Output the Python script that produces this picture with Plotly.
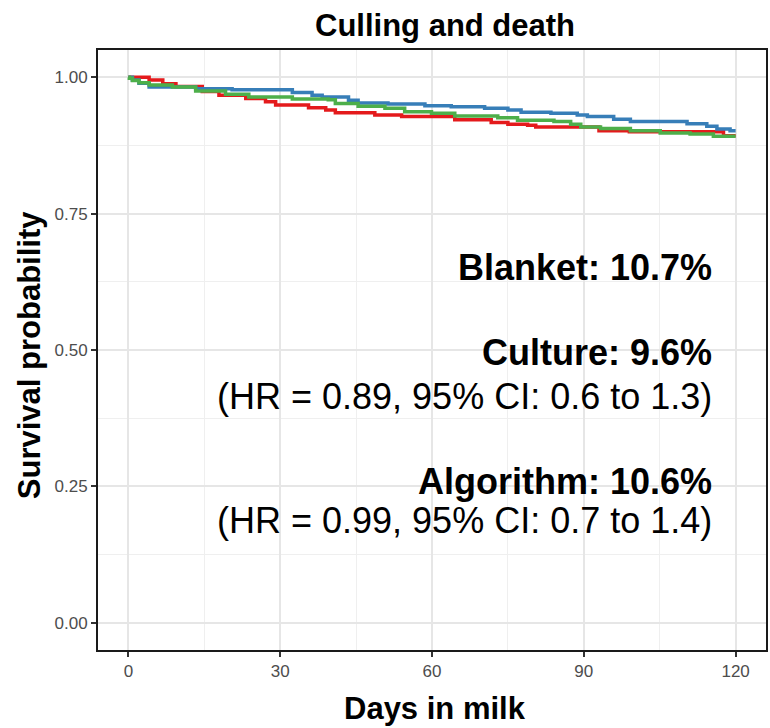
import plotly.graph_objects as go

# ---- data ----
blanket_days = [0, 4.1, 6.8, 9.4, 14.6, 17.9, 23.2, 27.1, 29.1, 35.6, 39.0, 40.9, 48.7, 54.0,
                64.5, 71.7, 75.0, 78.9, 80.5, 93.0, 99.0, 117.6, 120]
blanket_surv = [1.0, 0.995, 0.988, 0.983, 0.974, 0.967, 0.961, 0.955, 0.949, 0.944, 0.940, 0.935,
                0.931, 0.928, 0.922, 0.917, 0.914, 0.912, 0.909, 0.902, 0.900, 0.893, 0.893]

culture_days = [0, 0.8, 2.1, 4.1, 13.3, 20.5, 32.4, 36.3, 38.3, 43.5, 45.4, 51.3, 58.6, 63.8,
                70.4, 75.0, 77.6, 83.5, 88.7, 90.7, 95.9, 99.2, 110.4, 114.3, 116.3, 118.9, 120]
culture_surv = [1.0, 0.995, 0.989, 0.982, 0.979, 0.977, 0.972, 0.967, 0.964, 0.958, 0.953, 0.951,
                0.948, 0.946, 0.943, 0.940, 0.936, 0.934, 0.931, 0.928, 0.923, 0.919, 0.915,
                0.910, 0.905, 0.902, 0.902]

algorithm_days = [0, 0.2, 0.8, 2.1, 4.1, 8.7, 13.3, 19.2, 23.8, 32.4, 39.5, 40.9, 45.4, 50.7,
                  54.6, 59.9, 64.5, 73.0, 76.9, 84.1, 87.4, 89.4, 93.3, 99.2, 105.1, 111.0,
                  115.6, 120]
algorithm_surv = [1.0, 0.998, 0.994, 0.990, 0.986, 0.982, 0.975, 0.969, 0.964, 0.960, 0.959,
                  0.952, 0.947, 0.943, 0.937, 0.934, 0.929, 0.926, 0.921, 0.919, 0.914, 0.909,
                  0.906, 0.902, 0.898, 0.896, 0.892, 0.892]

x_ticks = [0, 30, 60, 90, 120]
y_ticks = [0.0, 0.25, 0.5, 0.75, 1.0]
y_ticklabels = ["0.00", "0.25", "0.50", "0.75", "1.00"]

title_text = "Culling and death"
x_title = "Days in milk"
y_title = "Survival probability"
label_lines = [
    ("<b>Blanket: 10.7%</b>", 0.6375),
    ("<b>Culture: 9.6%</b>", 0.4958),
    ("(HR = 0.89, 95% CI: 0.6 to 1.3)", 0.4225),
    ("<b>Algorithm: 10.6%</b>", 0.2808),
    ("(HR = 0.99, 95% CI: 0.7 to 1.4)", 0.2158),
]

FONT = "Liberation Sans, Arial, sans-serif"

fig = go.Figure()
for days, surv, color, name in [
    (blanket_days, blanket_surv, "#E41A1C", "Blanket"),
    (culture_days, culture_surv, "#377EB8", "Culture"),
    (algorithm_days, algorithm_surv, "#4DAF4A", "Algorithm"),
]:
    fig.add_trace(go.Scatter(x=days, y=surv, mode="lines", name=name,
                             line=dict(color=color, width=3.5, shape="hv"),
                             showlegend=False))

axis_common = dict(
    showline=True, mirror=True, linecolor="#1a1a1a", linewidth=1.8,
    ticks="outside", ticklen=5, tickwidth=1.5, tickcolor="#333333",
    tickfont=dict(family=FONT, size=17, color="#4D4D4D"),
    showgrid=True, gridcolor="#E6E6E6", gridwidth=1.6, zeroline=False,
)

fig.update_xaxes(range=[-6, 126], tickvals=x_ticks,
                 minor=dict(dtick=15, tick0=0, showgrid=True, gridcolor="#EFEFEF", gridwidth=1.0),
                 **axis_common)
fig.update_yaxes(range=[-0.05, 1.05], tickvals=y_ticks, ticktext=y_ticklabels,
                 minor=dict(dtick=0.125, tick0=0, showgrid=True, gridcolor="#EFEFEF", gridwidth=1.0),
                 **axis_common)

annotations = []
for text, yp in label_lines:
    annotations.append(dict(text=text, xref="paper", yref="paper", x=0.922, y=yp,
                            xanchor="right", yanchor="middle", showarrow=False,
                            font=dict(family=FONT, size=36, color="black")))
annotations.append(dict(text="<b>" + title_text + "</b>", xref="paper", yref="paper",
                        x=0.5194, y=1.04, xanchor="center", yanchor="middle", showarrow=False,
                        font=dict(family=FONT, size=31, color="black")))
annotations.append(dict(text="<b>" + x_title + "</b>", xref="paper", yref="paper",
                        x=0.505, y=-0.0967, xanchor="center", yanchor="middle", showarrow=False,
                        font=dict(family=FONT, size=31, color="black")))
annotations.append(dict(text="<b>" + y_title + "</b>", xref="paper", yref="paper",
                        x=-0.1015, y=0.4917, xanchor="center", yanchor="middle", showarrow=False,
                        textangle=-90,
                        font=dict(family=FONT, size=31, color="black")))

fig.update_layout(
    width=770, height=728,
    margin=dict(l=98, r=2, t=50, b=78),
    paper_bgcolor="white", plot_bgcolor="white",
    annotations=annotations,
    font=dict(family=FONT),
)

fig.write_html("out.html")
